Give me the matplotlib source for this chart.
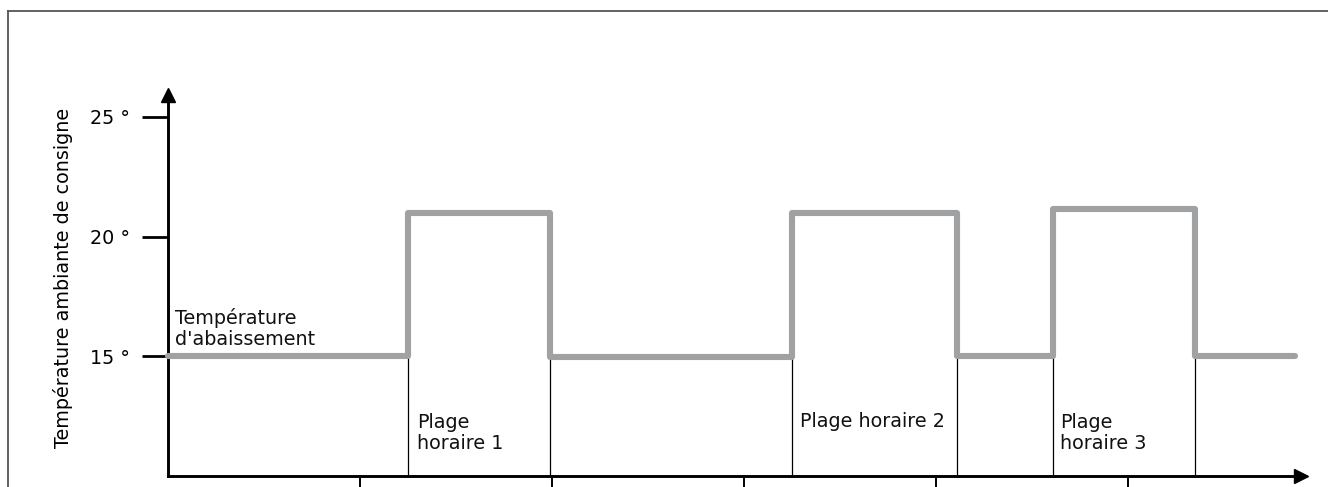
import matplotlib.pyplot as plt
from matplotlib.lines import Line2D

# step profile of the set temperature
switch_times = [0, 1.25, 1.99, 3.25, 4.11, 4.61, 5.35, 5.87]
set_temps = [15.0, 21.0, 14.95, 21.0, 15.0, 21.15, 15.0, 15.0]

# thin markers from the axis up to the low level
marker_times = [1.25, 1.99, 3.25, 4.11, 4.61, 5.35]
marker_tops = [15.0, 14.95, 14.95, 15.0, 15.0, 15.0]

y_ticks = [15, 20, 25]
y_tick_labels = ['15 °', '20 °', '25 °']
x_ticks = [1, 2, 3, 4, 5]

labels = ["Température\nd'abaissement", "Plage\nhoraire 1", "Plage horaire 2", "Plage\nhoraire 3"]
label_x = [0.036, 1.297, 3.29, 4.646]
label_y = [15.46, 11.11, 12.03, 11.11]  # baseline of the last line

plt.rcParams['font.family'] = ['DejaVu Sans']
fs = 13.8
grey = '#9fa1a3'

W, H = 1328, 487
fig = plt.figure(figsize=(W / 100, H / 100), dpi=100)

# axes placed in pixels: y axis at x=168, x axis at y=475.5
x0, y0 = 168, 475.5
px_x, px_y = 192, 23.9
xmax, ymax = 5.90, 25.92
ax = fig.add_axes([x0 / W, (H - y0) / H, xmax * px_x / W, (ymax - 10) * px_y / H])
ax.set_xlim(0, xmax)
ax.set_ylim(10, ymax)

for s in ['top', 'right']:
    ax.spines[s].set_visible(False)
for s in ['left', 'bottom']:
    ax.spines[s].set_linewidth(2.1)
    ax.spines[s].set_color('black')

# arrow heads
ax.plot(1, 0, '>k', markersize=10, transform=ax.transAxes, clip_on=False)
ax.plot(0, 1, '^k', markersize=10, transform=ax.transAxes, clip_on=False)

ax.set_yticks(y_ticks)
ax.set_yticklabels(y_tick_labels, fontsize=fs)
ax.tick_params(axis='y', direction='out', length=19, width=2.0, pad=8)
ax.set_xticks(x_ticks)
ax.set_xticklabels([])
ax.tick_params(axis='x', direction='out', length=12, width=1.4)

ax.vlines(marker_times, 10, marker_tops, color='black', linewidth=0.9)
ax.step(switch_times, set_temps, where='post', color=grey, linewidth=4.4,
        solid_joinstyle='round', solid_capstyle='round', clip_on=False, zorder=3)

for txt, x, y in zip(labels, label_x, label_y):
    ax.text(x, y, txt, fontsize=fs, ha='left', va='baseline', color='#111111',
            linespacing=1.15)

fig.text(63 / W, 1 - 278 / H, 'Température ambiante de consigne', rotation=90,
         ha='center', va='center', fontsize=fs)

# frame around the picture (top and left edges)
fig.add_artist(Line2D([8 / W, 1], [1 - 11 / H, 1 - 11 / H], transform=fig.transFigure,
                      color='#555555', linewidth=1.3))
fig.add_artist(Line2D([8 / W, 8 / W], [0, 1 - 11 / H], transform=fig.transFigure,
                      color='#555555', linewidth=1.3))

fig.savefig('out.png', dpi=100)
